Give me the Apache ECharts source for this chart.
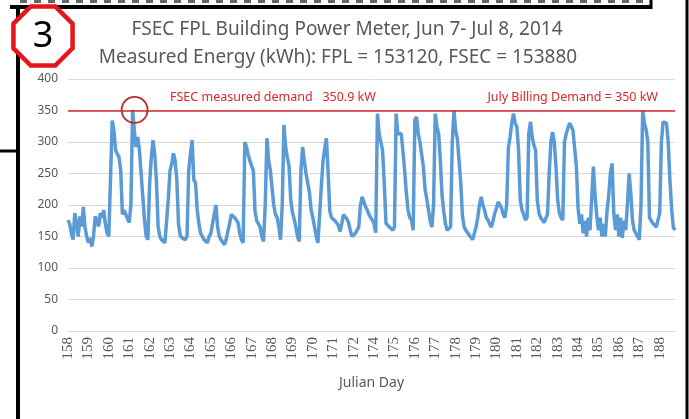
<!DOCTYPE html>
<html>
<head>
<meta charset="utf-8">
<script src="https://cdn.jsdelivr.net/npm/echarts@6/dist/echarts.min.js"></script>
<style>
  html, body { margin: 0; padding: 0; background: #fff; }
  #main { width: 689px; height: 419px; }
</style>
</head>
<body>
<div id="main"></div>
<script>
// day labels on the x axis (173 is not shown in the original)
var dayLabels = ['158','159','160','161','162','163','164','165','166','167','168','169','170','171','172',
                 '174','175','176','177','178','179','180','181','182','183','184','185','186','187','188'];
var pointsPerDay = 12;

// power, kW, 12 readings per day label
var kw = [
  176,170,155,145,187,171,150,182,166,197,165,150,
  140,148,134,150,182,175,166,187,180,192,170,155,
  150,152,334,318,287,281,276,255,185,192,185,178,
  172,200,350.9,318,292,308,287,250,213,176,150,145,
  234,276,303,281,239,166,150,145,146,140,142,210,
  255,265,282,270,240,170,152,148,150,145,150,255,
  281,303,240,235,192,170,155,150,145,142,140,150,
  155,170,185,200,165,150,145,142,137,145,158,170,
  185,187,180,183,172,155,145,140,300,292,280,270,
  262,255,190,175,170,165,150,142,200,306,271,255,
  255,200,185,180,165,145,200,327,292,275,262,208,
  188,178,165,150,142,255,292,270,250,235,220,192,
  180,165,150,140,142,230,270,290,306,250,190,180,
  178,175,172,168,158,170,185,187,178,172,160,150,
  150,155,152,165,200,213,205,197,192,185,180,176,
  170,156,345,313,300,287,235,171,168,165,162,160,
  165,345,313,310,313,285,255,219,192,180,176,160,
  335,340,313,300,280,261,225,210,192,175,165,200,
  345,324,313,270,215,190,170,160,162,165,300,350,
  318,305,303,235,182,165,160,156,152,150,145,155,
  165,180,200,213,200,192,180,176,170,165,175,187,
  195,205,208,195,185,180,200,290,308,330,345,330,
  324,287,208,192,185,176,180,313,332,308,295,287,
  208,187,180,176,172,175,185,250,300,316,300,261,
  208,187,180,176,300,313,322,330,325,318,290,261,
  195,170,185,155,175,150,180,160,210,261,215,182,
  160,180,150,170,150,190,215,250,266,187,160,185,
  150,180,148,175,160,200,250,219,175,160,155,150,
  145,200,350,330,320,300,180,175,171,168,165,165,
  187,300,332,332,330,300,240,195,165,160
];

var billingDemand = 350;
var yTicks = { min: 0, max: 400, step: 50 };

var idx = [];
for (var i = 0; i < kw.length; i++) idx.push(i);

// peak point (circled in the original)
var peakIdx = 0;
for (var i = 1; i < kw.length; i++) if (kw[i] > kw[peakIdx]) peakIdx = i;

// red octagon around the "3"
function octagon(cx, cy, r) {
  var pts = [];
  for (var k = 0; k < 8; k++) {
    var a = Math.PI / 8 + k * Math.PI / 4;
    pts.push([cx + r * Math.cos(a), cy + r * Math.sin(a)]);
  }
  return pts;
}

var myChart = echarts.init(document.getElementById('main'));
var gray = '#595959';
var red = '#d9262b';

var option = {
  backgroundColor: '#fff',
  animation: false,
  grid: { left: 68, right: 14, top: 79, bottom: 88 },
  xAxis: {
    type: 'category',
    data: idx,
    boundaryGap: false,
    name: 'Julian Day',
    nameLocation: 'middle',
    nameGap: 45,
    nameTextStyle: { color: gray, fontSize: 14, fontFamily: 'Noto Sans' },
    axisLine: { lineStyle: { color: '#d9d9d9' } },
    axisTick: { show: false },
    axisLabel: {
      rotate: 90,
      color: gray,
      fontSize: 15,
      fontFamily: 'Liberation Serif',
      margin: 6,
      interval: function (i) { return i % pointsPerDay === 0; },
      formatter: function (v, i) { return dayLabels[i / pointsPerDay] || ''; }
    },
    splitLine: { show: false }
  },
  yAxis: {
    type: 'value',
    min: yTicks.min,
    max: yTicks.max,
    interval: yTicks.step,
    axisLine: { show: false },
    axisTick: { show: false },
    axisLabel: { color: gray, fontSize: 12, fontFamily: 'Noto Sans', margin: 10 },
    splitLine: { lineStyle: { color: '#d9d9d9' } }
  },
  series: [{
    type: 'line',
    data: kw,
    symbol: 'none',
    lineStyle: { color: '#5b9bd5', width: 3.5 },
    markLine: {
      silent: true,
      symbol: 'none',
      label: { show: false },
      lineStyle: { color: red, width: 1.5, type: 'solid' },
      data: [{ yAxis: billingDemand }]
    },
    markPoint: {
      silent: true,
      symbol: 'circle',
      symbolSize: 26,
      symbolOffset: [2, 0],
      itemStyle: { color: 'rgba(0,0,0,0)', borderColor: '#c0282d', borderWidth: 1.8 },
      label: { show: false },
      data: [{ coord: [peakIdx, kw[peakIdx]] }]
    }
  }],
  graphic: [
    // frame pieces around the slide
    { type: 'line', shape: { x1: 20, y1: 1.5, x2: 650, y2: 1.5 }, style: { stroke: '#666', lineWidth: 3, lineDash: [7, 7] } },
    { type: 'line', shape: { x1: 10, y1: 7, x2: 652, y2: 7 }, style: { stroke: '#000', lineWidth: 4 } },
    { type: 'line', shape: { x1: 651, y1: 0, x2: 651, y2: 9 }, style: { stroke: '#000', lineWidth: 3 } },
    { type: 'line', shape: { x1: 18, y1: 5, x2: 18, y2: 419 }, style: { stroke: '#000', lineWidth: 4 } },
    { type: 'line', shape: { x1: 0, y1: 151, x2: 18, y2: 151 }, style: { stroke: '#000', lineWidth: 3 } },
    { type: 'line', shape: { x1: 687, y1: 0, x2: 687, y2: 419 }, style: { stroke: '#000', lineWidth: 3 } },
    { type: 'polygon', shape: { points: octagon(43, 36, 32) }, style: { fill: '#fff', stroke: '#e8141b', lineWidth: 4.5 } },
    { type: 'text', x: 43, y: 37, style: { text: '3', fontSize: 36, fontFamily: 'Noto Sans', fill: '#000', align: 'center', verticalAlign: 'middle' } },
    // title
    { type: 'text', x: 347, y: 30, style: { text: 'FSEC FPL Building Power Meter, Jun 7- Jul 8, 2014', fontSize: 19, fontFamily: 'Noto Sans', fill: gray, align: 'center', verticalAlign: 'middle' } },
    { type: 'text', x: 338, y: 58, style: { text: 'Measured Energy (kWh): FPL = 153120, FSEC = 153880', fontSize: 19, fontFamily: 'Noto Sans', fill: gray, align: 'center', verticalAlign: 'middle' } },
    // annotations on the demand line
    { type: 'text', x: 170, y: 97, style: { text: 'FSEC measured demand   350.9 kW', fontSize: 12.5, fontFamily: 'Noto Sans', fill: red, verticalAlign: 'middle' } },
    { type: 'text', x: 658, y: 97, style: { text: 'July Billing Demand = 350 kW', fontSize: 12.5, fontFamily: 'Noto Sans', fill: red, align: 'right', verticalAlign: 'middle' } }
  ]
};
myChart.setOption(option);
</script>
</body>
</html>
